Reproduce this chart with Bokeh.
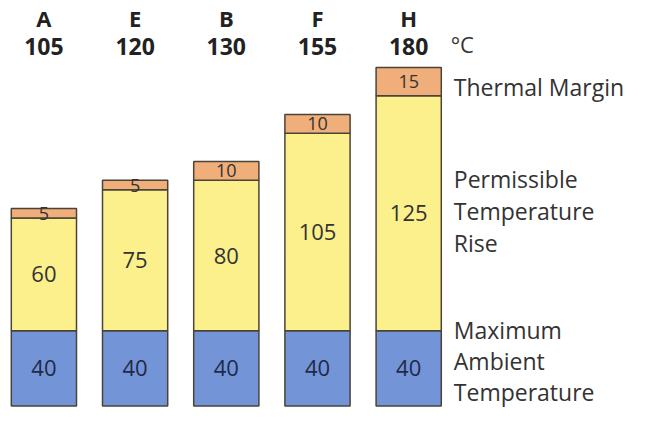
from bokeh.plotting import figure
from bokeh.models import ColumnDataSource
from bokeh.core.properties import value
from bokeh.embed import file_html
from bokeh.resources import INLINE

# Insulation classes and their temperature budget (degrees C)
classes = ["A", "E", "B", "F", "H"]
ambient = [40, 40, 40, 40, 40]        # maximum ambient temperature
rise = [60, 75, 80, 105, 125]         # permissible temperature rise
margin = [5, 5, 10, 10, 15]           # thermal margin
max_temp = [105, 120, 130, 155, 180]  # class temperature limit

FONT = "Open Sans"
BLUE = "#7394d6"
YELLOW = "#fbf08c"
ORANGE = "#f0ae7a"
EDGE = "#4a4438"
TXT = "#333333"

xs = list(range(len(classes)))
src = ColumnDataSource(dict(
    x=xs, cls=classes, ambient=ambient, rise=rise, margin=margin,
    total=[str(t) for t in max_temp],
    amb_c=[a / 2 for a in ambient],
    rise_c=[a + r / 2 for a, r in zip(ambient, rise)],
    mar_c=[a + r + m / 2 for a, r, m in zip(ambient, rise, margin)],
    amb_t=[str(v) for v in ambient],
    rise_t=[str(v) for v in rise],
    mar_t=[str(v) for v in margin],
))

p = figure(width=638, height=412, x_range=(-0.476, 6.52), y_range=(-3.4, 215.6),
           output_backend="svg", toolbar_location=None, min_border=0,
           outline_line_color=None)
p.axis.visible = False
p.grid.visible = False
p.background_fill_color = "white"

p.vbar_stack(["ambient", "rise", "margin"], x="x", width=0.715, source=src,
             fill_color=[BLUE, YELLOW, ORANGE], line_color=EDGE, line_width=1.5)

# values inside segments
p.text(x="x", y="amb_c", text="amb_t", source=src, text_font=value(FONT),
       text_font_size="22px", text_color="#1f2a48", text_align="center",
       text_baseline="middle")
p.text(x="x", y="rise_c", text="rise_t", source=src, text_font=value(FONT),
       text_font_size="22px", text_color=TXT, text_align="center",
       text_baseline="middle")
p.text(x="x", y="mar_c", text="mar_t", source=src, text_font=value(FONT),
       text_font_size="18px", text_color=TXT, text_align="center",
       text_baseline="middle")

# class letters and temperature limits on top
top_y = 206.5
p.text(x="x", y=top_y, text="cls", source=src, text_font=value(FONT),
       text_font_size="22px", text_font_style="bold", text_color="#222222",
       text_align="center", text_baseline="middle")
p.text(x="x", y=top_y, y_offset=29, text="total", source=src, text_font=value(FONT),
       text_font_size="23px", text_font_style="bold", text_color="#222222",
       text_align="center", text_baseline="middle")
p.text(x=[xs[-1] + 0.46], y=[top_y], y_offset=26, text=["°C"], text_font=value(FONT),
       text_font_size="22px", text_color=TXT, text_align="left",
       text_baseline="middle")

# right-hand legend, aligned with the last bar's segments
lx = xs[-1] + 0.495
last = len(classes) - 1
a, r, m = ambient[last], rise[last], margin[last]
p.text(x=[lx], y=[a + r + m / 2], y_offset=5, text=["Thermal Margin"], text_font=value(FONT),
       text_font_size="23px", text_color=TXT, text_baseline="middle")
for off, t in zip([-34, -2, 30], ["Permissible", "Temperature", "Rise"]):
    p.text(x=[lx], y=[a + r / 2], y_offset=off, text=[t], text_font=value(FONT),
           text_font_size="23px", text_color=TXT, text_baseline="middle")
for off, t in zip([-38, -7, 24], ["Maximum", "Ambient", "Temperature"]):
    p.text(x=[lx], y=[a / 2], y_offset=off, text=[t], text_font=value(FONT),
           text_font_size="23px", text_color=TXT, text_baseline="middle")

open("out.html", "w").write(file_html(p, INLINE))
